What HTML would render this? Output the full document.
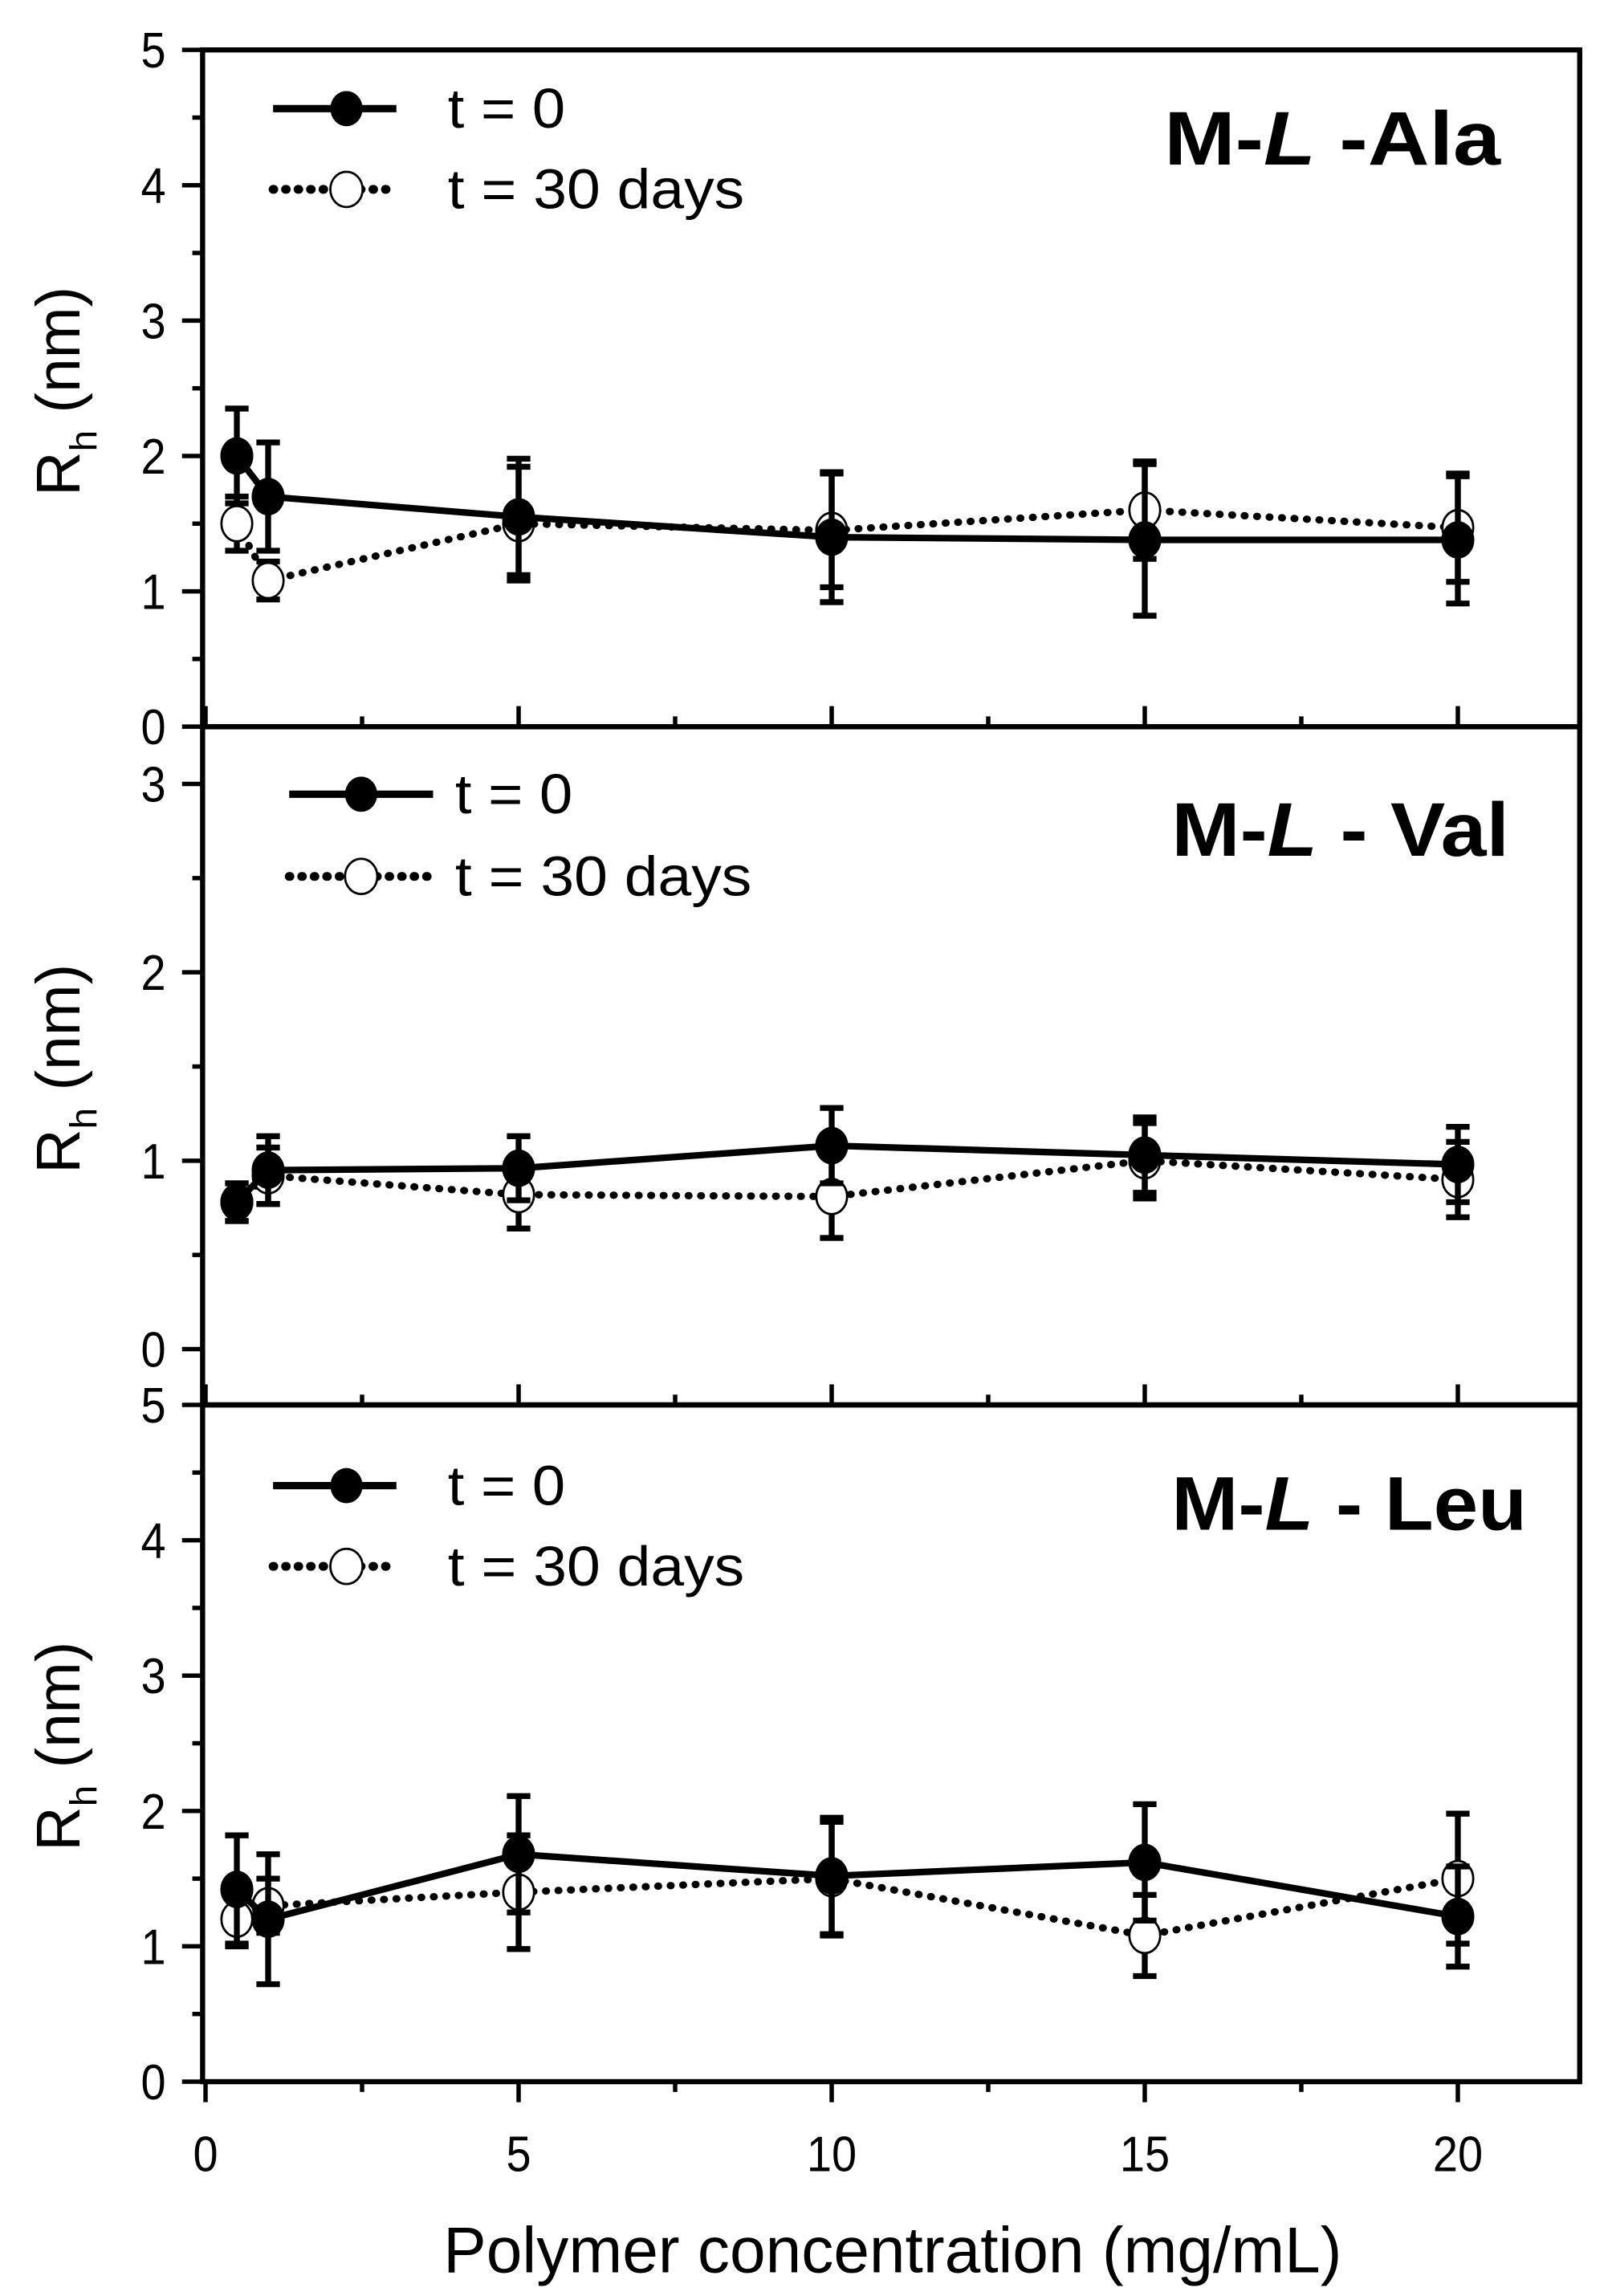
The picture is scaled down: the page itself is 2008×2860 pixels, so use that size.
<!DOCTYPE html>
<html><head><meta charset="utf-8"><style>
html,body{margin:0;padding:0;background:#fff}
svg{display:block}
text{font-family:"Liberation Sans",sans-serif;fill:#000}
</style></head><body>
<svg id="chart" width="2008" height="2860" viewBox="0 0 1098 1564" preserveAspectRatio="none" xmlns="http://www.w3.org/2000/svg"></svg>
<script>
const xValues=[0.5,1,5,10,15,20];
const alaT0=[2.0,1.7,1.55,1.4,1.38,1.38];
const alaT0Err=[0.35,0.4,0.43,0.48,0.56,0.47];
const alaT30=[1.5,1.08,1.5,1.45,1.6,1.47];
const alaT30Err=[0.2,0.14,0.42,0.42,0.36,0.4];
const valT0=[0.78,0.95,0.96,1.08,1.03,0.98];
const valT0Err=[0.1,0.18,0.17,0.2,0.2,0.2];
const valT30=[0.78,0.92,0.82,0.81,1.0,0.9];
const valT30Err=[0.1,0.15,0.18,0.22,0.2,0.2];
const leuT0=[1.42,1.2,1.68,1.52,1.62,1.22];
const leuT0Err=[0.4,0.48,0.43,0.43,0.43,0.37];
const leuT30=[1.2,1.3,1.4,1.5,1.08,1.5];
const leuT30Err=[0.2,0.2,0.42,0.42,0.3,0.48];
const xTicks=[0,5,10,15,20];
const ticksA=[0,1,2,3,4,5];
const ticksB=[0,1,2,3];

const svg=document.getElementById('chart');
const NS='http://www.w3.org/2000/svg';
function mk(tag,attrs,parent){const e=document.createElementNS(NS,tag);for(const k in attrs)e.setAttribute(k,attrs[k]);(parent||svg).appendChild(e);return e;}
const L=138,R=1076;
const xs=v=>140+(v)*(993-140)/20;

const panels=[
 {name:'ala',top:34,bot:495,y0:495,yTop:34,ticks:ticksA,t0:alaT0,e0:alaT0Err,t30:alaT30,e30:alaT30Err,label:['M-','L',' -Ala'],lblX:1022,lblY:112,lblW:229,leg:[186,270,236,305,74,129],tickDir:-1},
 {name:'val',top:495,bot:957,y0:919,yTop:534,ticks:ticksB,t0:valT0,e0:valT0Err,t30:valT30,e30:valT30Err,label:['M-','L',' - Val'],lblX:1028,lblY:583,lblW:230,leg:[197,295,246,310,541,597],tickDir:-1},
 {name:'leu',top:957,bot:1418,y0:1418,yTop:957,ticks:ticksA,t0:leuT0,e0:leuT0Err,t30:leuT30,e30:leuT30Err,label:['M-','L',' - Leu'],lblX:1040,lblY:1042,lblW:242,leg:[186,270,236,305,1012,1067],tickDir:1}
];

panels.forEach(p=>{
 const g=mk('g',{});
 
 
 const maxT=p.ticks[p.ticks.length-1];
 const ys=v=>p.y0-v*(p.y0-p.yTop)/maxT;
 const fr=mk('rect',{x:L,y:p.top,width:R-L,height:p.bot-p.top,fill:'none',stroke:'#000','stroke-width':3.5},g);
 
 
 for(let v=0;v<=maxT+0.001;v+=0.5){
  const y=ys(v);
  const major=Math.abs(v-Math.round(v))<1e-6;
  const t=mk('line',{x1:L-(major?14:7),x2:L,y1:y,y2:y,stroke:'#000','stroke-width':3},g);
  
  
 }
 p.ticks.forEach(v=>{
  const t=mk('text',{x:113,y:ys(v)+12,'text-anchor':'end','font-size':34,textLength:17,lengthAdjust:'spacingAndGlyphs'},g);
  t.textContent=v;
  
  
 });
 for(let v=0;v<=20.001;v+=2.5){
  const x=xs(v);const major=v%5===0;
  const y2=p.tickDir<0?p.bot-(major?14:7):p.bot+(major?14:7);
  const t=mk('line',{x1:x,x2:x,y1:p.bot,y2:y2,stroke:'#000','stroke-width':3},g);
  
  
 }
 const yt=mk('text',{transform:`translate(54,${(p.top+p.bot)/2+2}) rotate(-90)`,'text-anchor':'middle','font-size':42},g);
 
 
 yt.innerHTML='R<tspan font-size="26" dy="12">h</tspan><tspan dy="-12">  (nm)</tspan>';
 function series(vals,errs,filled,nm){
  const sg=mk('g',{},g);
  
  
  const pts=vals.map((v,i)=>xs(xValues[i])+','+ys(v)).join(' ');
  const pl=mk('polyline',{points:pts,fill:'none',stroke:'#000','stroke-width':filled?4.5:5,'stroke-dasharray':filled?'none':'0.5 8','stroke-linecap':filled?'butt':'round'},sg);
  
  
  vals.forEach((v,i)=>{
   const x=xs(xValues[i]);const yh=ys(v+errs[i]),yl=ys(v-errs[i]);
   const eb=mk('path',{d:`M${x},${yh}V${yl}M${x-8},${yh}H${x+8}M${x-8},${yl}H${x+8}`,stroke:'#000','stroke-width':4,fill:'none'},sg);
   
   
  });
  vals.forEach((v,i)=>{
   const c=mk('ellipse',{cx:xs(xValues[i]),cy:ys(v),rx:10.5,ry:12,fill:filled?'#000':'#fff',stroke:'#000','stroke-width':1.5},sg);
   
   
  });
 }
 series(p.t30,p.e30,false,'t30');
 series(p.t0,p.e0,true,'t0');
 const [lx1,lx2,mx,tx,r1,r2]=p.leg;
 const lg=mk('g',{},g);
 
 
 mk('line',{x1:lx1,x2:lx2,y1:r1,y2:r1,stroke:'#000','stroke-width':5},lg);
 mk('ellipse',{cx:mx,cy:r1,rx:11,ry:12,fill:'#000'},lg);
 const t1=mk('text',{x:tx,y:r1+13,'font-size':38,textLength:80,lengthAdjust:'spacingAndGlyphs'},lg);t1.textContent='t = 0';
 
 
 mk('line',{x1:lx1,x2:lx2,y1:r2,y2:r2,stroke:'#000','stroke-width':6,'stroke-dasharray':'0.5 8','stroke-linecap':'round'},lg);
 mk('ellipse',{cx:mx,cy:r2,rx:11,ry:12,fill:'#fff',stroke:'#000','stroke-width':1.5},lg);
 const t2=mk('text',{x:tx,y:r2+13,'font-size':38,textLength:202,lengthAdjust:'spacingAndGlyphs'},lg);t2.textContent='t = 30 days';
 
 
 const lb=mk('text',{x:p.lblX,y:p.lblY,'text-anchor':'end','font-size':52,'font-weight':'bold',textLength:p.lblW,lengthAdjust:'spacingAndGlyphs'},g);
 
 
 lb.innerHTML=`${p.label[0]}<tspan font-style="italic">${p.label[1]}</tspan>${p.label[2]}`;
});
xTicks.forEach(v=>{
 const t=mk('text',{x:xs(v),y:1479,'text-anchor':'middle','font-size':34,textLength:String(v).length*17,lengthAdjust:'spacingAndGlyphs'});
 t.textContent=v;
 
 
});
const xt=mk('text',{x:608,y:1548,'text-anchor':'middle','font-size':44,textLength:612,lengthAdjust:'spacingAndGlyphs'});
xt.textContent='Polymer concentration (mg/mL)';


</script>
</body></html>
